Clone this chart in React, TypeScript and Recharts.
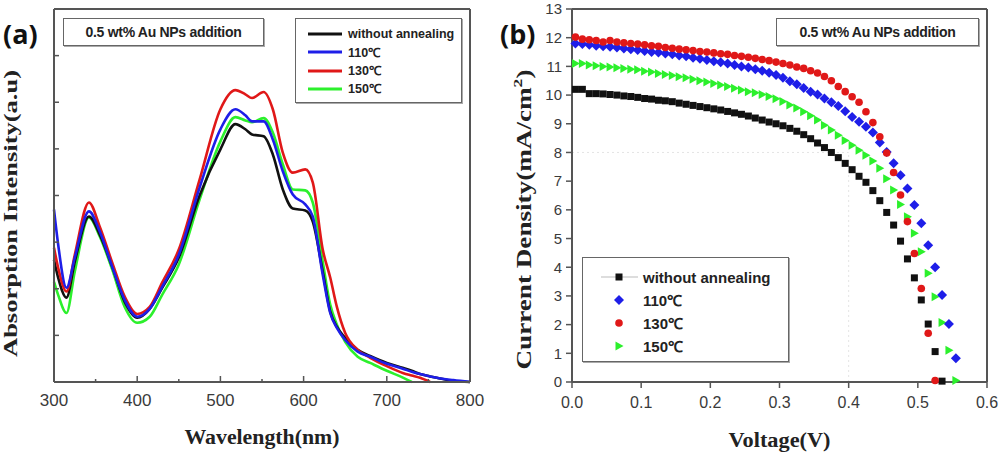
import {
  Label,
  Legend,
  Line,
  LineChart,
  ReferenceLine,
  Scatter,
  ScatterChart,
  XAxis,
  YAxis,
} from "recharts";

// (a) absorption spectra, arbitrary units (one unit per y tick)
const wavelengths = [300, 305, 315, 325, 342, 355, 370, 385, 400, 415, 430, 450, 475, 500, 518, 530, 538, 552, 563, 575, 587, 602, 611, 623, 632, 640, 650, 665, 680, 700, 720, 730, 740, 752, 760, 780, 800];
const absWithout = [2.62, 2.24, 1.81, 2.58, 3.55, 3.16, 2.47, 1.72, 1.38, 1.57, 2.02, 2.67, 4.0, 4.99, 5.53, 5.42, 5.31, 5.27, 4.88, 4.13, 3.72, 3.68, 3.44, 2.37, 1.51, 1.18, 0.95, 0.69, 0.56, 0.41, 0.3, 0.24, 0.17, 0.12, 0.09, 0.02, 0];
const abs110 = [3.7, 2.95, 2.02, 2.67, 3.66, 3.23, 2.47, 1.76, 1.4, 1.57, 2.04, 2.73, 4.17, 5.42, 5.85, 5.72, 5.59, 5.59, 5.2, 4.52, 4.02, 3.81, 3.55, 2.3, 1.48, 1.16, 0.9, 0.65, 0.54, 0.39, 0.28, 0.22, 0.17, 0.12, 0.09, 0.04, 0];
const abs130 = [2.88, 2.45, 1.94, 2.73, 3.85, 3.33, 2.56, 1.83, 1.46, 1.61, 2.13, 2.84, 4.34, 5.85, 6.26, 6.17, 6.09, 6.22, 5.85, 4.92, 4.49, 4.56, 4.28, 2.84, 2.24, 1.61, 1.05, 0.69, 0.52, 0.34, 0.19, 0.14, 0.09, 0, null, null, null];
const abs150 = [2.15, 1.87, 1.48, 2.37, 3.53, 3.12, 2.41, 1.61, 1.27, 1.4, 1.87, 2.52, 3.91, 5.16, 5.68, 5.61, 5.57, 5.66, 5.35, 4.67, 4.13, 4.11, 3.85, 2.58, 1.66, 1.23, 0.86, 0.54, 0.41, 0.24, 0.09, 0, null, null, null, null, null];
const wavelengthTicks = [300, 350, 400, 450, 500, 550, 600, 650, 700, 750, 800];
const absTicks = [1, 2, 3, 4, 5, 6, 7];

// (b) J-V curves
const voltages = [0.005, 0.015, 0.025, 0.035, 0.045, 0.055, 0.065, 0.075, 0.085, 0.095, 0.105, 0.115, 0.125, 0.135, 0.145, 0.155, 0.165, 0.175, 0.185, 0.195, 0.205, 0.215, 0.225, 0.235, 0.245, 0.255, 0.265, 0.275, 0.285, 0.295, 0.305, 0.315, 0.325, 0.335, 0.345, 0.355, 0.365, 0.375, 0.385, 0.395, 0.405, 0.415, 0.425, 0.435, 0.445, 0.455, 0.465, 0.475, 0.485, 0.495, 0.505, 0.515, 0.525, 0.535, 0.545, 0.555];
const jWithout = [10.2, 10.2, 10.05, 10.05, 10.04, 10.02, 10.0, 9.97, 9.95, 9.92, 9.88, 9.86, 9.82, 9.8, 9.77, 9.72, 9.68, 9.64, 9.6, 9.56, 9.52, 9.48, 9.43, 9.38, 9.33, 9.27, 9.2, 9.13, 9.06, 9.0, 8.93, 8.84, 8.74, 8.62, 8.48, 8.33, 8.17, 8.0, 7.82, 7.62, 7.4, 7.17, 6.96, 6.67, 6.32, 5.91, 5.47, 4.91, 4.29, 3.63, 2.86, 2.02, 1.06, 0.03, null, null];
const j110 = [11.8, 11.78, 11.75, 11.72, 11.7, 11.68, 11.66, 11.62, 11.6, 11.57, 11.54, 11.5, 11.48, 11.45, 11.42, 11.38, 11.35, 11.3, 11.27, 11.22, 11.18, 11.14, 11.1, 11.05, 11.0, 10.96, 10.9, 10.85, 10.78, 10.7, 10.6, 10.48, 10.38, 10.25, 10.12, 10.02, 9.88, 9.75, 9.62, 9.44, 9.24, 9.07, 8.9, 8.7, 8.35, 8.02, 7.62, 7.21, 6.74, 6.17, 5.53, 4.77, 4.0, 3.03, 2.02, 0.83];
const j130 = [12.02, 11.95, 11.93, 11.9, 11.85, 11.9, 11.85, 11.82, 11.8, 11.78, 11.75, 11.72, 11.7, 11.66, 11.63, 11.6, 11.58, 11.55, 11.52, 11.5, 11.47, 11.44, 11.42, 11.38, 11.35, 11.32, 11.28, 11.24, 11.2, 11.15, 11.1, 11.05, 10.98, 10.93, 10.85, 10.77, 10.65, 10.5, 10.3, 10.12, 9.94, 9.75, 9.42, 9.04, 8.55, 7.98, 7.3, 6.52, 5.59, 4.48, 3.26, 1.7, 0.05, null, null, null];
const j150 = [11.1, 11.1, 11.05, 11.02, 11.0, 10.98, 10.95, 10.93, 10.9, 10.88, 10.83, 10.8, 10.75, 10.72, 10.68, 10.64, 10.6, 10.55, 10.5, 10.46, 10.4, 10.35, 10.3, 10.24, 10.18, 10.12, 10.08, 10.02, 9.95, 9.87, 9.78, 9.65, 9.55, 9.42, 9.28, 9.13, 8.95, 8.78, 8.6, 8.42, 8.25, 8.08, 7.9, 7.7, 7.45, 7.08, 6.69, 6.19, 5.76, 5.18, 4.54, 3.79, 2.97, 2.07, 1.11, 0.05];
const voltageTicks = [0, 0.1, 0.2, 0.3, 0.4, 0.5, 0.6];
const currentTicks = [0, 1, 2, 3, 4, 5, 6, 7, 8, 9, 10, 11, 12, 13];

const seriesNames = ["without annealing", "110\u2103", "130\u2103", "150\u2103"];
const BLACK = "#111111";
const BLUE = "#1e1ee8";
const RED = "#e01818";
const GREEN = "#2cf02c";
const seriesColors = [BLACK, BLUE, RED, GREEN];

const AXIS = "#555555";
const SANS = "Arial, 'Liberation Sans', sans-serif";
const SERIF = "'Times New Roman', 'Liberation Serif', serif";

const absData = wavelengths.map((wl, i) => ({
  wl,
  without: absWithout[i],
  t110: abs110[i],
  t130: abs130[i],
  t150: abs150[i],
}));

const toPoints = (values: (number | null)[]) =>
  voltages.map((v, i) => ({ v, j: values[i] })).filter((p) => p.j !== null);

function WavelengthTick({ x, y, payload }: any) {
  const major = payload.value % 100 === 0;
  return (
    <g>
      <line x1={x} x2={x} y1={y} y2={y - (major ? 6 : 3)} stroke={AXIS} strokeWidth={1.5} />
      {major && (
        <text x={x} y={y + 24} textAnchor="middle" fontSize={17} fill="#3a3a3a" fontFamily={SANS}>
          {payload.value}
        </text>
      )}
    </g>
  );
}

function AbsTick({ x, y }: any) {
  return <line x1={x} x2={x + 5} y1={y} y2={y} stroke={AXIS} strokeWidth={1.5} />;
}

function AbsYLabel({ viewBox }: any) {
  const cx = viewBox.x - 4;
  const cy = viewBox.y + viewBox.height / 2 + 18;
  return (
    <text x={cx} y={cy} transform={`rotate(-90, ${cx}, ${cy})`} textAnchor="middle" dominantBaseline="central"
      fontFamily={SERIF} fontWeight="bold" fontSize={19} fill="#222" textLength={287} lengthAdjust="spacingAndGlyphs">
      Absorption Intensity(a.u)
    </text>
  );
}

function WavelengthLabel({ viewBox }: any) {
  const cx = viewBox.x + viewBox.width / 2;
  return (
    <text x={cx} y={viewBox.y + 55} textAnchor="middle" dominantBaseline="central" fontFamily={SERIF}
      fontWeight="bold" fontSize={20} fill="#222" textLength={155} lengthAdjust="spacingAndGlyphs">
      Wavelength(nm)
    </text>
  );
}

function CurrentYLabel({ viewBox }: any) {
  const cx = viewBox.x + 12;
  const cy = viewBox.y + viewBox.height / 2 + 24;
  return (
    <text x={cx} y={cy} transform={`rotate(-90, ${cx}, ${cy})`} textAnchor="middle" dominantBaseline="central"
      fontFamily={SERIF} fontWeight="bold" fontSize={20} fill="#222" textLength={300} lengthAdjust="spacingAndGlyphs">
      Current Density(mA/cm<tspan dy={-7} fontSize={13}>2</tspan><tspan dy={7}>)</tspan>
    </text>
  );
}

function VoltageLabel({ viewBox }: any) {
  const cx = viewBox.x + viewBox.width / 2;
  return (
    <text x={cx} y={viewBox.y + 58} textAnchor="middle" dominantBaseline="central" fontFamily={SERIF}
      fontWeight="bold" fontSize={20} fill="#222" textLength={102} lengthAdjust="spacingAndGlyphs">
      Voltage(V)
    </text>
  );
}

const squareShape = (p: any) => <rect x={p.cx - 3.5} y={p.cy - 3.5} width={7} height={7} fill={BLACK} />;
const diamondShape = (p: any) => (
  <polygon points={`${p.cx},${p.cy - 5} ${p.cx + 5},${p.cy} ${p.cx},${p.cy + 5} ${p.cx - 5},${p.cy}`} fill={BLUE} />
);
const circleShape = (p: any) => <circle cx={p.cx} cy={p.cy} r={3.8} fill={RED} />;
const triangleShape = (p: any) => (
  <polygon points={`${p.cx - 3.5},${p.cy - 4.5} ${p.cx + 4.5},${p.cy} ${p.cx - 3.5},${p.cy + 4.5}`} fill={GREEN} />
);
const markerShapes = [squareShape, diamondShape, circleShape, triangleShape];

const boxStyle = {
  border: "1.5px solid #666",
  boxShadow: "1px 1px 0 #aaa",
  background: "#fff",
  boxSizing: "border-box" as const,
};

function AbsLegend() {
  return (
    <div style={{ ...boxStyle, width: 167, height: 85, position: "relative", fontFamily: SANS, fontWeight: "bold", fontSize: 12.5, color: "#222" }}>
      {seriesNames.map((name, i) => (
        <div key={name} style={{ position: "absolute", left: 0, top: 6 + i * 18.3, height: 18, display: "flex", alignItems: "center" }}>
          <svg width={52} height={18}>
            <line x1={12} x2={46} y1={9} y2={9} stroke={seriesColors[i]} strokeWidth={3} />
          </svg>
          <span style={{ whiteSpace: "nowrap" }}>{name}</span>
        </div>
      ))}
    </div>
  );
}

function JvLegend() {
  return (
    <div style={{ ...boxStyle, width: 207, height: 105, position: "relative", fontFamily: SANS, fontWeight: "bold", fontSize: 15, color: "#222" }}>
      {seriesNames.map((name, i) => (
        <div key={name} style={{ position: "absolute", left: 0, top: 8 + i * 23, height: 22, display: "flex", alignItems: "center" }}>
          <svg width={60} height={22}>
            {i === 0 && <line x1={18} x2={55} y1={11} y2={11} stroke="#bbb" strokeWidth={1} />}
            {markerShapes[i]({ cx: 36, cy: 11 })}
          </svg>
          <span style={{ whiteSpace: "nowrap" }}>{name}</span>
        </div>
      ))}
    </div>
  );
}

const noteStyle = {
  ...boxStyle,
  position: "absolute" as const,
  height: 28,
  display: "flex",
  alignItems: "center",
  justifyContent: "center",
  fontFamily: SANS,
  fontWeight: "bold" as const,
  fontSize: 14,
  letterSpacing: -0.3,
  color: "#222",
};

const panelLetter = {
  position: "absolute" as const,
  top: 20,
  fontFamily: "'Open Sans', Arial, sans-serif",
  fontWeight: 700,
  fontSize: 27,
  lineHeight: 1,
  color: "#111",
};

export default function App() {
  return (
    <div style={{ position: "absolute", left: 0, top: 0, width: 999, height: 457, background: "#fff", overflow: "hidden" }}>
      <div style={{ position: "absolute", left: 0, top: 0 }}>
        <LineChart width={490} height={457} data={absData} margin={{ top: 9, right: 20, bottom: 45, left: 14 }}>
          <XAxis type="number" dataKey="wl" domain={[300, 800]} ticks={wavelengthTicks} height={30}
            axisLine={{ stroke: AXIS, strokeWidth: 2 }} tickLine={false} tickSize={0} tickMargin={0}
            tick={<WavelengthTick />} interval={0}>
            <Label content={<WavelengthLabel />} />
          </XAxis>
          <YAxis type="number" domain={[0, 8]} ticks={absTicks} width={40}
            axisLine={{ stroke: AXIS, strokeWidth: 2 }} tickLine={false} tickSize={0} tickMargin={0}
            tick={<AbsTick />} interval={0}>
            <Label content={<AbsYLabel />} />
          </YAxis>
          <ReferenceLine x={800} stroke={AXIS} strokeWidth={2} />
          <ReferenceLine y={8} stroke={AXIS} strokeWidth={2} />
          <Line type="monotone" dataKey="t150" stroke={GREEN} strokeWidth={2.6} dot={false} isAnimationActive={false} />
          <Line type="monotone" dataKey="without" stroke={BLACK} strokeWidth={2.6} dot={false} isAnimationActive={false} />
          <Line type="monotone" dataKey="t130" stroke={RED} strokeWidth={2.6} dot={false} isAnimationActive={false} />
          <Line type="monotone" dataKey="t110" stroke={BLUE} strokeWidth={2.6} dot={false} isAnimationActive={false} />
          <Legend layout="vertical" align="center" verticalAlign="middle" content={<AbsLegend />}
            wrapperStyle={{ left: 295, top: 18, width: 167, height: 85 }} />
        </LineChart>
      </div>

      <div style={{ position: "absolute", left: 490, top: 0 }}>
        <ScatterChart width={509} height={457} margin={{ top: 9, right: 12, bottom: 45, left: 22 }}>
          <XAxis type="number" dataKey="v" domain={[0, 0.6]} ticks={voltageTicks} height={30} interval={0}
            tickFormatter={(v: number) => v.toFixed(1)} axisLine={{ stroke: AXIS, strokeWidth: 2 }}
            tickLine={{ stroke: AXIS, strokeWidth: 1.5 }} tickSize={6} tickMargin={9}
            tick={{ fontSize: 16, fill: "#3a3a3a", fontFamily: SANS }}>
            <Label content={<VoltageLabel />} />
          </XAxis>
          <YAxis type="number" dataKey="j" domain={[0, 13]} ticks={currentTicks} width={60} interval={0}
            axisLine={{ stroke: AXIS, strokeWidth: 2 }} tickLine={{ stroke: AXIS, strokeWidth: 1.5 }}
            tickSize={6} tickMargin={4} tick={{ fontSize: 15, fill: "#3a3a3a", fontFamily: SANS }}>
            <Label content={<CurrentYLabel />} />
          </YAxis>
          <ReferenceLine segment={[{ x: 0, y: 8 }, { x: 0.4, y: 8 }]} stroke="#e4e4e4" strokeDasharray="2 3" />
          <ReferenceLine segment={[{ x: 0.4, y: 0 }, { x: 0.4, y: 8 }]} stroke="#e4e4e4" strokeDasharray="2 3" />
          <ReferenceLine x={0.6} stroke={AXIS} strokeWidth={2} />
          <ReferenceLine y={13} stroke={AXIS} strokeWidth={2} />
          <Scatter name={seriesNames[0]} data={toPoints(jWithout)} shape={squareShape} isAnimationActive={false} />
          <Scatter name={seriesNames[3]} data={toPoints(j150)} shape={triangleShape} isAnimationActive={false} />
          <Scatter name={seriesNames[1]} data={toPoints(j110)} shape={diamondShape} isAnimationActive={false} />
          <Scatter name={seriesNames[2]} data={toPoints(j130)} shape={circleShape} isAnimationActive={false} />
          <Legend layout="vertical" align="center" verticalAlign="middle" content={<JvLegend />}
            wrapperStyle={{ left: 92, top: 257, width: 207, height: 105 }} />
        </ScatterChart>
      </div>

      <div style={{ ...noteStyle, left: 63, top: 18, width: 201 }}>0.5 wt% Au NPs addition</div>
      <div style={{ ...noteStyle, left: 776, top: 18, width: 203 }}>0.5 wt% Au NPs addition</div>
      <div style={{ ...panelLetter, left: 3 }}>(a)</div>
      <div style={{ ...panelLetter, left: 500 }}>(b)</div>
    </div>
  );
}
